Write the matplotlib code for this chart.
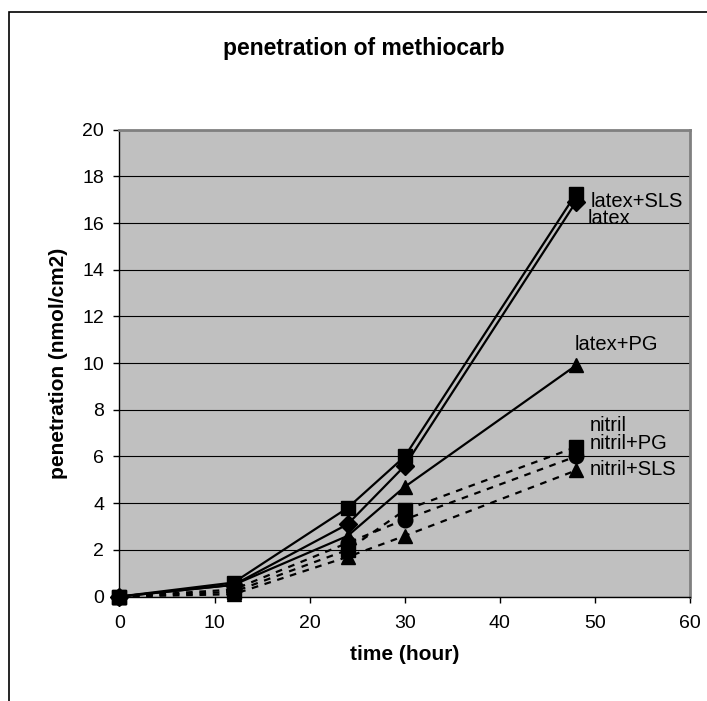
import matplotlib
matplotlib.use("Agg")
import matplotlib.pyplot as plt
from matplotlib.patches import Rectangle

plt.rcParams['font.family'] = ['Liberation Sans', 'DejaVu Sans']

# 数据
hours = [0, 12, 24, 30, 48]
latex_sls = [0, 0.6, 3.8, 6.0, 17.25]
latex = [0, 0.5, 3.1, 5.6, 16.9]
latex_pg = [0, 0.5, 2.6, 4.7, 9.9]
nitril = [0, 0.3, 2.3, 3.3, 6.0]
nitril_pg = [0, 0.2, 2.0, 3.7, 6.4]
nitril_sls = [0, 0.1, 1.7, 2.6, 5.4]

# 名称, 数值, 线型, 标记, 标签位置
series = [
    ("latex+SLS", latex_sls, "-", "s", (49.5, 16.93)),
    ("latex", latex, "-", "D", (49.2, 16.2)),
    ("latex+PG", latex_pg, "-", "^", (47.9, 10.8)),
    ("nitril", nitril, "--", "o", (49.5, 7.32)),
    ("nitril+PG", nitril_pg, "--", "s", (49.5, 6.57)),
    ("nitril+SLS", nitril_sls, "--", "^", (49.5, 5.43)),
]

fig = plt.figure(figsize=(7.07, 7.01), dpi=100)
ax = fig.add_axes([0.169, 0.149, 0.807, 0.666])
ax.set_facecolor("#c0c0c0")

for name, vals, ls, mk, (lx, ly) in series:
    ms = 9 if mk == "D" else 10.5
    ax.plot(hours, vals, linestyle=ls, marker=mk, color="black", lw=1.6,
            markersize=ms, dashes=(3, 3) if ls == "--" else (None, None),
            clip_on=False, zorder=3)
    ax.text(lx, ly, name, fontsize=14.5, va="center", ha="left", zorder=4)

ax.set_xlim(0, 60)
ax.set_ylim(0, 20)
ax.set_xticks(range(0, 61, 10))
ax.set_yticks(range(0, 21, 2))
ax.yaxis.grid(True, color="black", lw=0.8)
ax.set_axisbelow(True)
ax.tick_params(direction="out", length=4, width=1, labelsize=14)
ax.tick_params(axis="x", pad=9)
ax.tick_params(axis="y", pad=7)

for side in ("left", "bottom"):
    ax.spines[side].set_color("black")
    ax.spines[side].set_linewidth(1)
for side in ("top", "right"):
    ax.spines[side].set_color("#808080")
    ax.spines[side].set_linewidth(2)

fig.text(0.515, 0.931, "penetration of methiocarb", ha="center", va="center",
         fontsize=16.5, fontweight="bold")
ax.set_xlabel("time (hour)", fontsize=15, fontweight="bold", labelpad=10)
ax.set_ylabel("penetration (nmol/cm2)", fontsize=15, fontweight="bold", labelpad=10)

# 外框
fig.patches.append(Rectangle((9 / 707, -0.1), 1.2, 1.1 - 12 / 701, transform=fig.transFigure,
                             fill=False, edgecolor="black", lw=1.2))

fig.savefig("out.png", dpi=100)
